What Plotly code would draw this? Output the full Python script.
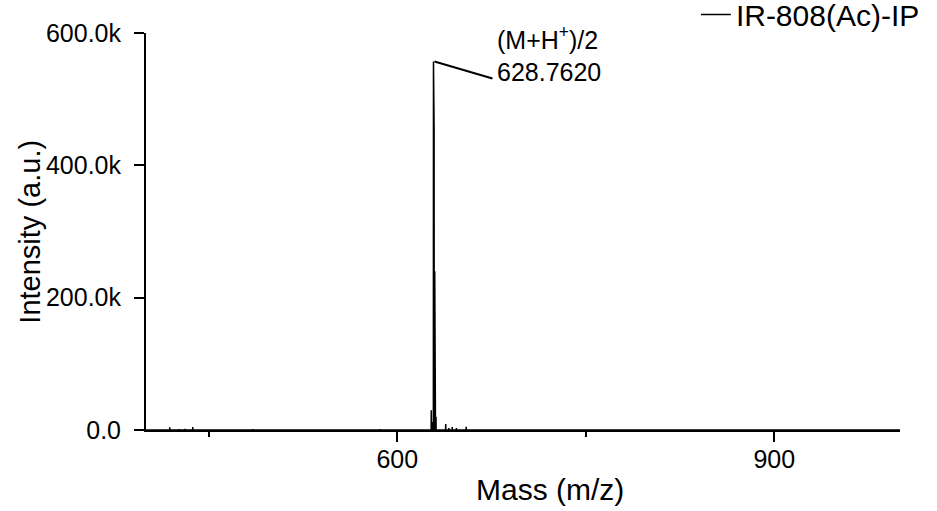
import plotly.graph_objects as go

# ---- data ----
peak_mz = [418.9, 426.5, 431.0, 437.2, 484.9, 578.0, 586.0, 627.0, 627.8,
           628.76, 629.26, 629.76, 630.26, 630.76, 638.5, 641.0, 643.7, 647.0, 654.8]
peak_int = [4000, 1500, 1800, 4500, 1500, 1000, 1500, 30000, 12000,
            557000, 456000, 240000, 65000, 20000, 9000, 3000, 4500, 3000, 5000]

y_tickvals = [0, 200000, 400000, 600000]
y_ticktext = ["0.0", "200.0k", "400.0k", "600.0k"]
x_tickvals = [600, 900]
x_ticktext = ["600", "900"]

series_name = "IR-808(Ac)-IP"
label_mz = 628.7620
label_int = 557000

# build a stick profile from the peak list
xs, ys = [400.0], [0.0]
for m, i in zip(peak_mz, peak_int):
    xs += [m - 0.1, m, m + 0.1]
    ys += [0, i, 0]
xs.append(1000.0)
ys.append(0.0)

FONT = "Liberation Sans, Arial, sans-serif"

fig = go.Figure()
fig.add_trace(go.Scatter(x=xs, y=ys, mode="lines", name=series_name,
                         line=dict(color="black", width=1.5), showlegend=True))

fig.update_layout(
    width=937, height=511,
    margin=dict(l=146, r=37, t=33, b=81, autoexpand=False),
    paper_bgcolor="white", plot_bgcolor="white",
    font=dict(family=FONT, color="black"),
    legend=dict(x=1.033, y=1.112, xanchor="right", yanchor="top",
                font=dict(size=30, family=FONT), bgcolor="rgba(0,0,0,0)"),
    xaxis=dict(range=[400, 1000], showgrid=False, zeroline=False,
               showline=True, linewidth=2, linecolor="black",
               ticks="outside", ticklen=10, tickwidth=2, tickcolor="black",
               tickvals=x_tickvals, ticktext=x_ticktext,
               tickfont=dict(size=25, family=FONT), ticklabelstandoff=-4,
               minor=dict(tickvals=[450, 750], ticks="outside", ticklen=5,
                          tickwidth=2, tickcolor="black", showgrid=False)),
    yaxis=dict(range=[0, 600000], showgrid=False, zeroline=False,
               showline=True, linewidth=2, linecolor="black",
               ticks="outside", ticklen=10, tickwidth=2, tickcolor="black",
               tickvals=y_tickvals, ticktext=y_ticktext,
               tickfont=dict(size=25, family=FONT), ticklabelstandoff=8),
)

# y-axis title
fig.add_annotation(text="Intensity (a.u.)", xref="paper", yref="paper",
                   x=-0.155, y=0.5, xanchor="center", yanchor="middle",
                   textangle=-90, showarrow=False,
                   font=dict(size=29, family=FONT))

# x-axis title (slightly right of centre, as in the reference)
fig.add_annotation(text="Mass (m/z)", xref="paper", yref="paper",
                   x=0.536, y=-0.151, xanchor="center", yanchor="middle",
                   showarrow=False, font=dict(size=30, family=FONT))

# peak label and leader line
fig.add_shape(type="line", xref="x", yref="y",
              xsizemode="pixel", ysizemode="pixel",
              xanchor=label_mz, yanchor=label_int,
              x0=1, y0=0, x1=59, y1=-17,
              line=dict(color="black", width=2))
fig.add_annotation(x=label_mz, y=label_int, xref="x", yref="y",
                   text="(M+H<sup>+</sup>)/2<br>628.7620", align="left",
                   xanchor="left", yanchor="middle", xshift=62, yshift=7,
                   showarrow=False, font=dict(size=25, family=FONT))

fig.write_html("out.html", config={"displayModeBar": False},
               post_script="document.body.style.margin='0';")
